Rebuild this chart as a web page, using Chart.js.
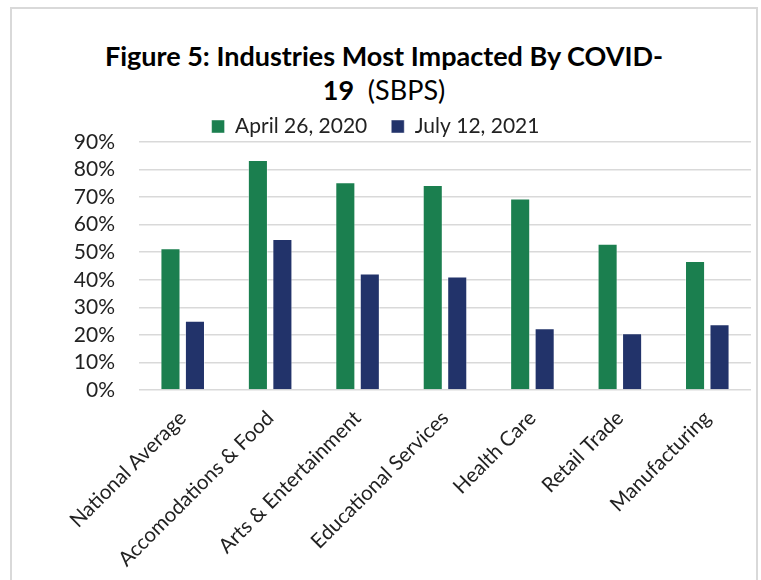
<!doctype html>
<html>
  <head>
    <meta charset="utf-8">
    <title>Figure 5: Industries Most Impacted By COVID-19</title>
    <script src="https://cdn.jsdelivr.net/npm/chart.js@4"></script>
    <style>
      body { margin: 0; background: #fff; font-family: Lato, sans-serif; }
      #frame {
        position: absolute; left: 10px; top: 7px; width: 744px; height: 600px;
        border: 2px solid #d9d9d9; border-bottom: none;
      }
      #title {
        position: absolute; left: 10px; top: 39px; width: 748px;
        text-align: center; font-size: 27px; line-height: 34px; color: #000;
      }
      #title b { font-weight: bold; }
      #myChart { position: absolute; left: 0; top: 92px; }
    </style>
  </head>
  <body>
  <div id="frame"></div>
  <div id="title"><b>Figure 5: Industries Most Impacted By COVID-<br>19</b>&nbsp; (SBPS)</div>
  <canvas id="myChart" width="761" height="488"></canvas>
  <script>
    const industries = ['National Average', 'Accomodations & Food', 'Arts & Entertainment',
      'Educational Services', 'Health Care', 'Retail Trade', 'Manufacturing'];
    const april2020 = [51.4, 83.5, 75.4, 74.4, 69.5, 53.1, 46.8];
    const july2021 = [25.1, 54.8, 42.3, 41.2, 22.4, 20.6, 23.9];

    const ctx = document.getElementById('myChart').getContext('2d');
    const myChart = new Chart(ctx, {
      type: 'bar',
      data: {
        labels: industries,
        datasets: [
          {
            label: 'April 26, 2020',
            data: april2020,
            backgroundColor: '#1b7f4f',
            borderColor: 'rgba(255,255,255,0.45)',
            borderWidth: 1,
            barPercentage: 0.82,
            categoryPercentage: 0.56,
          },
          {
            label: 'July 12, 2021',
            data: july2021,
            backgroundColor: '#22336a',
            borderColor: 'rgba(255,255,255,0.45)',
            borderWidth: 1,
            barPercentage: 0.82,
            categoryPercentage: 0.56,
          },
        ]
      },
      options: {
        responsive: false,
        animation: false,
        layout: { padding: { left: 0, right: 10, top: 0, bottom: 0 } },
        scales: {
          x: {
            grid: { display: false },
            border: { display: false },
            ticks: {
              minRotation: 45,
              maxRotation: 45,
              autoSkip: false,
              color: '#222',
              font: { family: 'Lato', size: 20.5 },
              padding: 8,
            },
            afterFit: (scale) => { scale.height = 190; }
          },
          y: {
            min: 0,
            max: 90,
            border: { display: false },
            grid: { color: '#d9d9d9', lineWidth: 1.5, drawTicks: false },
            ticks: {
              stepSize: 10,
              autoSkip: false,
              padding: 24,
              color: '#222',
              font: { family: 'Lato', size: 21 },
              callback: (value) => value + '%'
            },
            afterFit: (scale) => { scale.width = 139; }
          }
        },
        plugins: {
          tooltip: { enabled: false },
          legend: {
            position: 'top',
            maxHeight: 50,
            labels: {
              boxWidth: 13,
              boxHeight: 13,
              padding: 24,
              color: '#222',
              font: { family: 'Lato', size: 21 },
            }
          }
        }
      }
    });
  </script>
  </body>
</html>
